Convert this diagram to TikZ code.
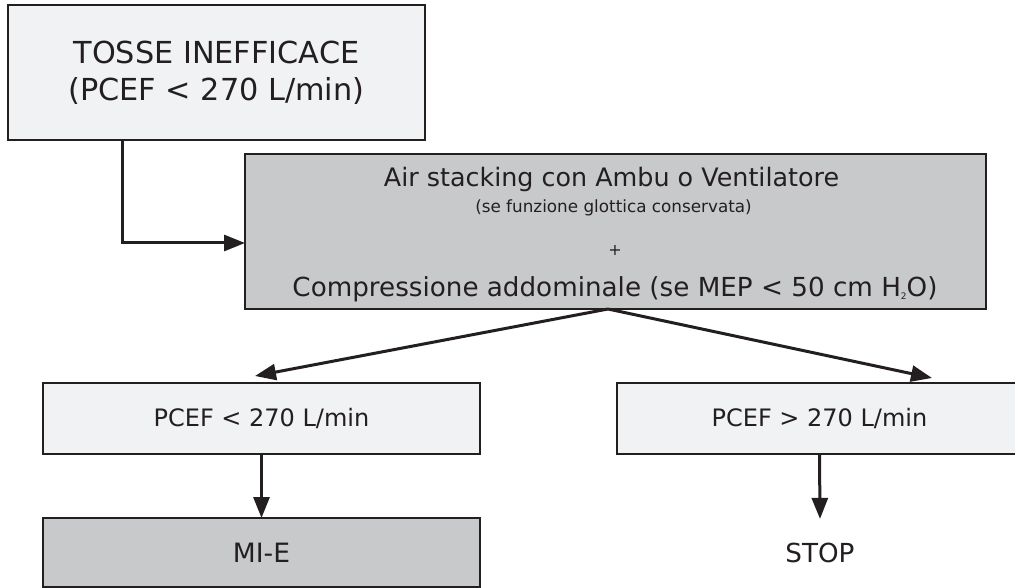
\documentclass[tikz,border=0pt]{standalone}
\usepackage{fontspec}
\setmainfont{DejaVu Sans}
\usetikzlibrary{arrows.meta,calc}

\definecolor{boxlight}{HTML}{F1F2F3}
\definecolor{boxgray}{HTML}{C8C9CB}
\definecolor{ink}{HTML}{231F20}

\begin{document}
\begin{tikzpicture}[x=1pt,y=-1pt,
  box/.style={draw=ink, line width=2.2pt, rectangle, inner sep=0pt, outer sep=0pt, text=ink},
  lightbox/.style={box, fill=boxlight},
  graybox/.style={box, fill=boxgray},
  flow/.style={draw=ink, line width=3pt, -{Triangle[length=21pt,width=16pt]}},
  txt/.style={text=ink, inner sep=0pt, anchor=base}
]
\useasboundingbox (0,0) rectangle (1015,588);
\clip (0,0) rectangle (1015,588);
\fill[white] (0,0) rectangle (1015,588);

% starting condition
\node[lightbox, minimum width=417pt, minimum height=135pt, align=center,
      font=\fontsize{30.3}{37}\selectfont] (tosse) at (216.5,72.5)
  {TOSSE INEFFICACE\\(PCEF < 270 L/min)};

% assisted cough techniques
\node[graybox, minimum width=741pt, minimum height=155pt] (stack) at (615.5,231.5) {};
\node[txt, font=\fontsize{25.4}{25.4}\selectfont] (stackA) at (611.5,187)
  {Air stacking con Ambu o Ventilatore};
\node[txt, font=\fontsize{16.8}{16.8}\selectfont] (stackB) at (613.5,213)
  {(se funzione glottica conservata)};
\node[txt, font=\fontsize{16}{16}\selectfont] (stackC) at (615,255) {+};
\node[txt, font=\fontsize{26.2}{26.2}\selectfont] (stackD) at (615,297)
  {Compressione addominale (se MEP < 50 cm H{\fontsize{9}{9}\selectfont\raisebox{-2pt}{2}}O)};

% outcome boxes
\node[lightbox, minimum width=437pt, minimum height=71pt,
      font=\fontsize{24}{24}\selectfont] (low) at (261.5,418.5) {PCEF < 270 L/min};
\node[lightbox, minimum width=405pt, minimum height=71pt,
      font=\fontsize{24}{24}\selectfont] (high) at (819.5,418.5) {PCEF > 270 L/min};

\node[graybox, minimum width=437pt, minimum height=69pt,
      font=\fontsize{26.6}{26.6}\selectfont] (mie) at (261.5,552.5) {MI-E};
\node[text=ink, inner xsep=0pt, inner ysep=24pt,
      font=\fontsize{26.2}{26.2}\selectfont] (stop) at (820,553) {STOP};

% connectors
\draw[flow] ([xshift=-94.5pt]tosse.south) |- ([yshift=-11.5pt]stack.west);
\coordinate (split) at ([xshift=-7.5pt]stack.south);
\draw[flow] (split) -- ([xshift=-6.5pt,yshift=7pt]low.north);
\draw[flow] (split) -- ([xshift=112.5pt,yshift=5pt]high.north);
\draw[flow] (low.south) -- (mie.north);
\draw[flow] (high.south) -- (stop.north);
\end{tikzpicture}
\end{document}
